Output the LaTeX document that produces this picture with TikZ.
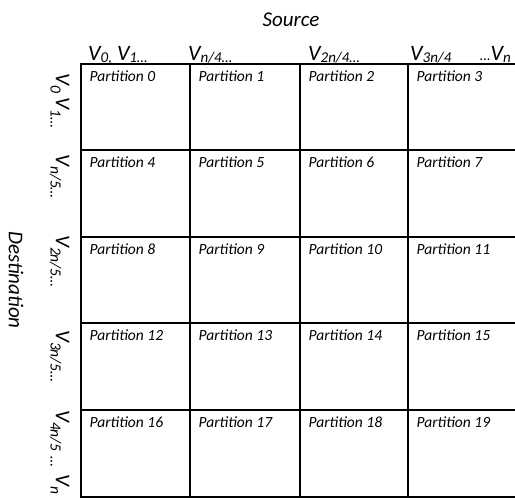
\documentclass[tikz,border=0pt]{standalone}
\usepackage{fontspec}
\setmainfont{Carlito}
\newcommand\sbs[1]{\raisebox{-2.5pt}{\fontsize{15}{15}\selectfont #1}}
\newcommand\rsbs[1]{\raisebox{-5.5pt}{\fontsize{15.5}{15.5}\selectfont #1}}
\begin{document}
\begin{tikzpicture}[x=1pt,y=-1pt]
\tikzset{
  lab/.style={font=\fontsize{21}{21}\selectfont\itshape, inner sep=0pt},
  vlab/.style={font=\fontsize{22}{22}\selectfont\itshape, inner sep=0pt, anchor=base west},
  rlab/.style={font=\fontsize{21}{21}\selectfont\itshape, inner sep=0pt, anchor=base west, rotate=-90},
  part/.style={font=\fontsize{15.5}{15.5}\selectfont\itshape, inner sep=0pt, anchor=base west},
  outerline/.style={line width=2.2pt},
  innerline/.style={line width=1.3pt}
}
\useasboundingbox (0,0) rectangle (515,500);
\clip (0,0) rectangle (515,500);

% grid
\foreach \x in {190,300,408} \draw[innerline] (\x,64) -- (\x,497);
\foreach \y in {150,237,323,410} \draw[innerline] (81,\y) -- (520,\y);
\draw[outerline] (520,64) -- (81,64) -- (81,497) -- (520,497);

% titles
\node[lab, anchor=base] (src) at (291,27) {Source};
\node[lab, anchor=base, rotate=-90] (dst) at (9,280) {Destination};

% column labels
\node[vlab] (c0) at (88,60.5) {V\sbs{0,} V\sbs{1…}};
\node[vlab] (c1) at (188,60.5) {V\sbs{n/4…}};
\node[vlab] (c2) at (308,60.5) {V\sbs{2n/4…}};
\node[vlab] (c3) at (410,60.5) {V\sbs{3n/4}};
\node[vlab] (c4) at (480,60.5) {{\fontsize{15}{15}\selectfont …}V\sbs{n}};

% row labels
\node[rlab] (r0) at (56,73) {V\rsbs{0} V\rsbs{1…}};
\node[rlab] (r1) at (56,154) {V\rsbs{n/5…}};
\node[rlab] (r2) at (56,235) {V\rsbs{2n/5…}};
\node[rlab] (r3) at (56,330) {V\rsbs{3n/5…}};
\node[rlab] (r4) at (56,410) {V\rsbs{4n/5\hspace{5pt}…\hspace{7pt}}V\rsbs{n}};

% partitions
\foreach \r/\y in {0/64,1/150,2/237,3/323,4/410} {
  \foreach \c/\x in {0/81,1/190,2/300,3/408} {
    \pgfmathtruncatemacro\n{4*\r+\c}
    \node[part] (p\n) at (\x+8.5,\y+18) {Partition \n};
  }
}
\end{tikzpicture}
\end{document}
